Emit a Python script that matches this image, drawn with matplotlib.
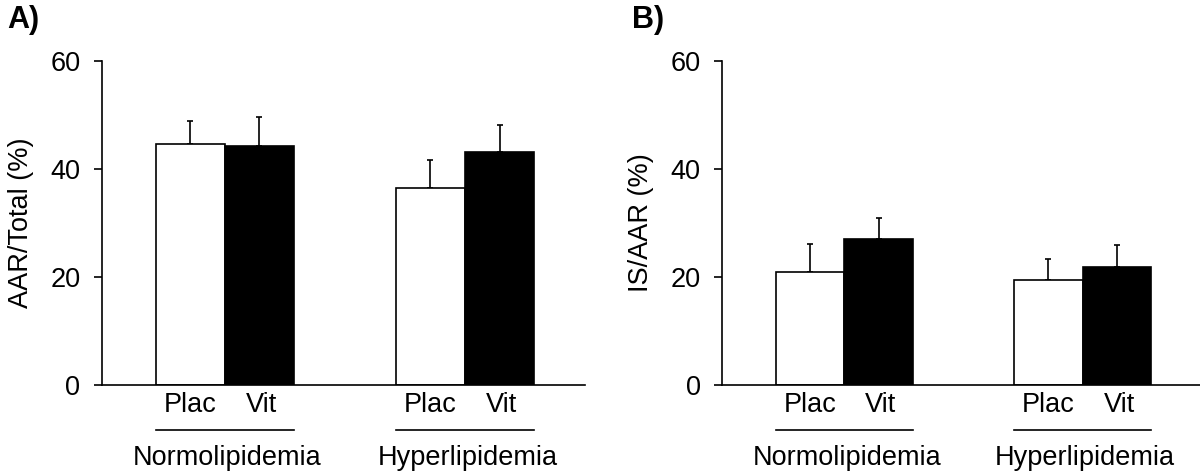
import matplotlib
matplotlib.use("Agg")
import matplotlib.pyplot as plt

plt.rcParams["font.family"] = ["Liberation Sans", "DejaVu Sans"]
plt.rcParams["font.size"] = 19.5

# data (mean + upper SEM)
groups = ["Normolipidemia", "Hyperlipidemia"]
treatments = ["Plac", "Vit"]
aar_plac = [44.7, 36.5]
aar_plac_err = [4.2, 5.2]
aar_vit = [44.2, 43.1]
aar_vit_err = [5.5, 5.1]
is_plac = [21.0, 19.5]
is_plac_err = [5.2, 3.9]
is_vit = [27.1, 21.8]
is_vit_err = [3.8, 4.2]
yticks = [0, 20, 40, 60]

fig = plt.figure(figsize=(12, 4.73), dpi=100)
axA = fig.add_axes([0.085, 0.186, 0.4025, 0.685])
axB = fig.add_axes([0.6017, 0.186, 0.4, 0.685])

w = 0.2875
gx = [0, 1]


def draw(ax, plac, plac_err, vit, vit_err, ylabel, letter, letter_x):
    xp = [g - w / 2 for g in gx]
    xv = [g + w / 2 for g in gx]
    ax.bar(xp, plac, w, color="white", edgecolor="black", linewidth=1.2, zorder=2)
    ax.bar(xv, vit, w, color="black", edgecolor="black", linewidth=1.2, zorder=2)
    ax.errorbar(xp, plac, yerr=[[0, 0], plac_err], fmt="none", ecolor="black",
                elinewidth=1.2, capsize=2.5, capthick=1.2, zorder=1)
    ax.errorbar(xv, vit, yerr=[[0, 0], vit_err], fmt="none", ecolor="black",
                elinewidth=1.2, capsize=2.5, capthick=1.2, zorder=1)
    ax.set_xlim(-0.5125, 1.5)
    ax.set_ylim(0, 60)
    ax.set_yticks(yticks)
    ax.set_xticks([])
    for s in ["top", "right"]:
        ax.spines[s].set_visible(False)
    ax.spines["left"].set_linewidth(1.2)
    ax.spines["bottom"].set_linewidth(1.2)
    ax.tick_params(axis="y", direction="out", length=5.5, width=1.2, pad=10)
    ax.set_ylabel(ylabel, labelpad=12)
    for i, g in enumerate(gx):
        ax.text(xp[i], -3.7, treatments[0], ha="center", va="center", clip_on=False)
        ax.text(xv[i] + 0.01, -3.7, treatments[1], ha="center", va="center", clip_on=False)
        ax.plot([g - w, g + w], [-8.3, -8.3], color="black", lw=1.2, clip_on=False)
        ax.text(g + 0.01, -13.5, groups[i], ha="center", va="center", clip_on=False)
    fig.text(letter_x, 0.958, letter, fontweight="bold", fontsize=22,
             ha="left", va="center")


draw(axA, aar_plac, aar_plac_err, aar_vit, aar_vit_err, "AAR/Total (%)", "A)", 0.006)
draw(axB, is_plac, is_plac_err, is_vit, is_vit_err, "IS/AAR (%)", "B)", 0.527)

fig.savefig("out.png", dpi=100)
